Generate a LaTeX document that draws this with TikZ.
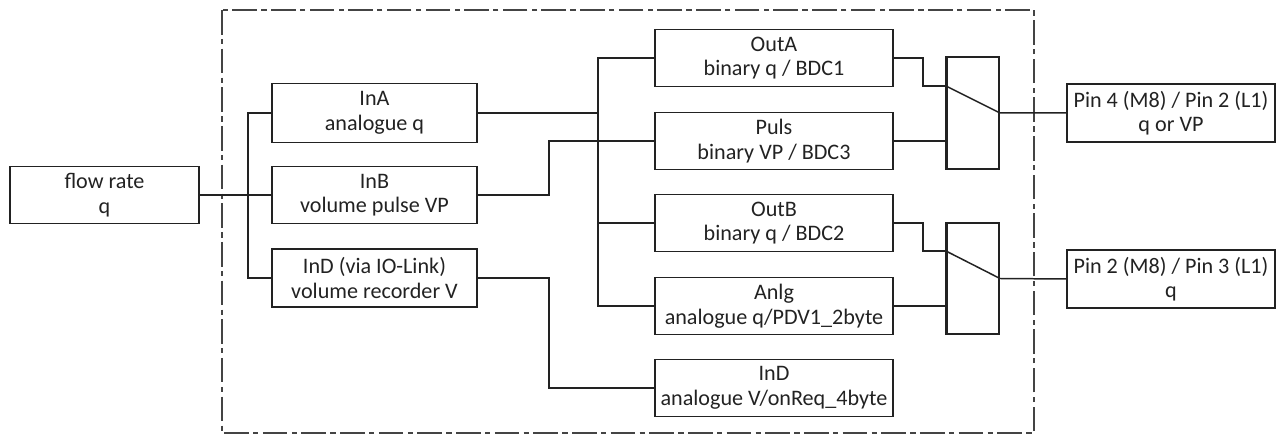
\documentclass[tikz,border=0pt]{standalone}
\usepackage{fontspec}
\setmainfont{Carlito}
\usepackage{xcolor}
\usepackage{tikz}
\usetikzlibrary{calc}
\definecolor{inkcol}{HTML}{222222}
\definecolor{framecol}{HTML}{444444}

\tikzset{
  blockbox/.style={draw=inkcol, line width=1.1pt, minimum height=1.14cm, inner sep=1pt,
    align=center, text=inkcol, font=\fontsize{12.6}{14}\selectfont},
  switchbox/.style={draw=inkcol, line width=1.1pt, minimum width=1.04cm, inner sep=0pt},
  wire/.style={draw=inkcol, line width=0.85pt},
  framebox/.style={draw=framecol, line width=0.8pt, dash pattern=on 14pt off 2.5pt on 3pt off 2.5pt}
}

\begin{document}
\begin{tikzpicture}[x=0.02cm, y=-0.02cm]
        \useasboundingbox (0,0) rectangle (1282,435);
        % device frame
        \draw[framebox] (222,10) rectangle (1034,433);
        % source
        \node[blockbox, minimum width=3.78cm] (flow) at (104.5,195) {flow rate\\q};
        % inputs
        \node[blockbox, minimum width=4.1cm, minimum height=1.18cm] (inA) at (374.5,113) {InA\\analogue q};
        \node[blockbox, minimum width=4.1cm] (inB) at (374.5,195) {InB\\volume pulse VP};
        \node[blockbox, minimum width=4.1cm, minimum height=1.16cm] (inD) at (374.5,278) {InD (via IO-Link)\\volume recorder V};
        % outputs
        \node[blockbox, minimum width=4.76cm] (outA) at (774,58) {OutA\\binary q / BDC1};
        \node[blockbox, minimum width=4.76cm] (puls) at (774,141) {Puls\\binary VP / BDC3};
        \node[blockbox, minimum width=4.76cm] (outB) at (774,223) {OutB\\binary q / BDC2};
        \node[blockbox, minimum width=4.76cm] (anlg) at (774,306) {Anlg\\analogue q/PDV1\_2byte};
        \node[blockbox, minimum width=4.76cm] (inDout) at (774,388) {InD\\analogue V/onReq\_4byte};
        % switches
        \node[switchbox, minimum height=2.24cm] (sw1) at (973,113) {};
        \node[switchbox, minimum height=2.22cm] (sw2) at (973,278.5) {};
        \draw[inkcol, line width=1.7pt] (sw1.north west) -- (sw1.south west);
        \draw[inkcol, line width=1.7pt] (sw2.north west) -- (sw2.south west);
        % pins
        \node[blockbox, minimum width=4.16cm, minimum height=1.16cm] (pinA) at (1171,113) {Pin 4 (M8) / Pin 2 (L1)\\q or VP};
        \node[blockbox, minimum width=4.16cm, minimum height=1.16cm] (pinB) at (1171,279) {Pin 2 (M8) / Pin 3 (L1)\\q};

        \coordinate (lb) at (248,0);
        \coordinate (mb) at (549,0);
        \coordinate (rb) at (598,0);
        \coordinate (sw1in) at ($(sw1.north west)+(0,30)$);
        \coordinate (sw2in) at ($(sw2.north west)+(0,29)$);

        % input side
        \draw[wire] (flow.east) -- (inB.west);
        \draw[wire] (inA.west) -- (inA.west -| lb) |- (inD.west);
        % output bus
        \draw[wire] (outA.west) -- (outA.west -| rb) |- (anlg.west);
        \draw[wire] (inA.east) -- (inA.east -| rb);
        \draw[wire] (outB.west) -- (outB.west -| rb);
        \draw[wire] (inB.east) -- (inB.east -| mb) |- (puls.west);
        \draw[wire] (inD.east) -- (inD.east -| mb) |- (inDout.west);
        % switch 1
        \draw[wire] (outA.east) -- ++(29,0) |- (sw1in);
        \draw[wire] (puls.east) -- (puls.east -| sw1.west);
        \draw[wire] (sw1in) -- (sw1.east) -- (pinA.west);
        % switch 2
        \draw[wire] (outB.east) -- ++(29,0) |- (sw2in);
        \draw[wire] (anlg.east) -- (anlg.east -| sw2.west);
        \draw[wire] (sw2in) -- (sw2.east) -- (pinB.west);
    \end{tikzpicture}
\end{document}
